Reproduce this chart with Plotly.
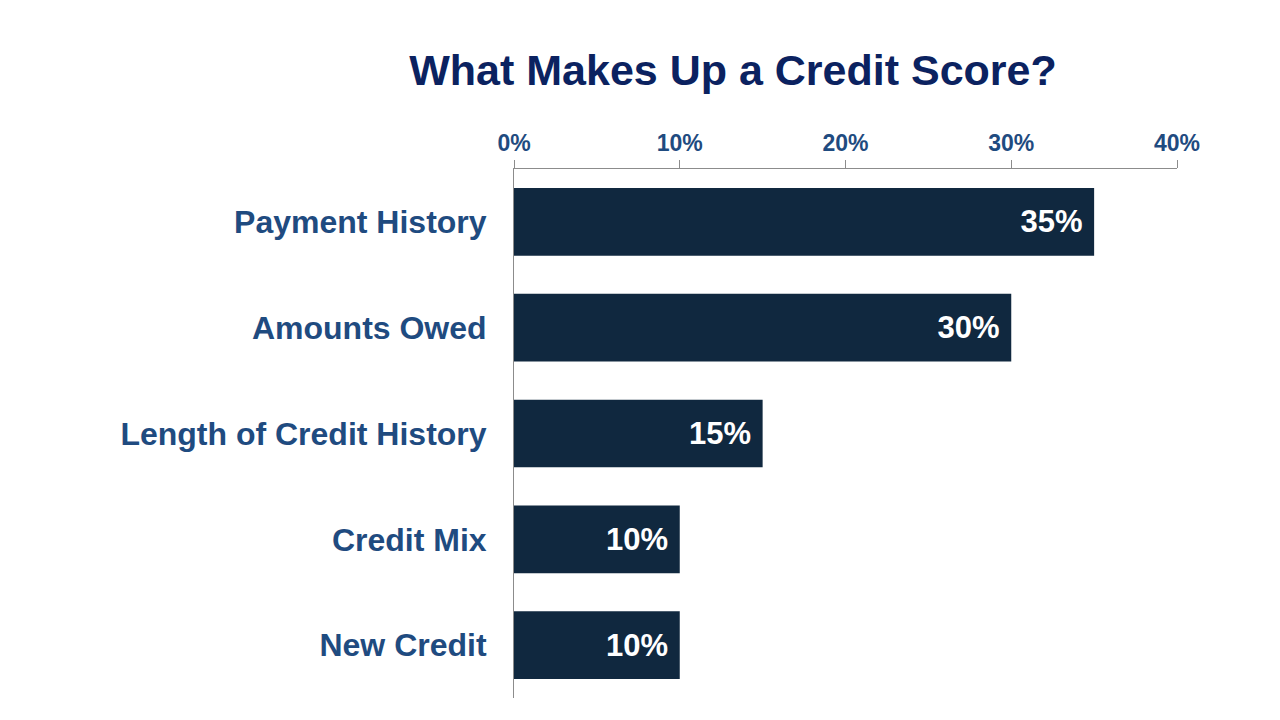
import plotly.graph_objects as go

categories = ["Payment History", "Amounts Owed", "Length of Credit History", "Credit Mix", "New Credit"]
shares = [35, 30, 15, 10, 10]
tick_vals = [0, 10, 20, 30, 40]
tick_text = ["0%", "10%", "20%", "30%", "40%"]

FONT = "Liberation Sans, Arial, sans-serif"
label_blue = "#1f4b80"

# page body adds an 8px offset, so margins are set against that
fig = go.Figure()
fig.add_trace(go.Bar(
    y=categories,
    x=shares,
    orientation="h",
    marker=dict(color="#10283f", line=dict(width=0)),
    text=[str(v) + "%\u00a0" for v in shares],
    textposition="inside",
    insidetextanchor="end",
    textfont=dict(family=FONT, size=31, color="white", weight="bold"),
    hoverinfo="x+y",
))

fig.update_layout(
    width=1280, height=720,
    paper_bgcolor="white", plot_bgcolor="white",
    margin=dict(l=506, r=111, t=161, b=30),
    bargap=0.36,
    showlegend=False,
    title=dict(text="<b>What Makes Up a Credit Score?</b>", x=725 / 1280, xanchor="center",
               xref="container", y=1 - 62 / 720, yanchor="middle", yref="container",
               font=dict(family=FONT, size=43, color="#0b2260")),
    xaxis=dict(side="top", range=[0, 40], tickvals=tick_vals, ticktext=tick_text,
               showgrid=False, zeroline=False, showline=True, linecolor="#8c8c8c", linewidth=1,
               ticks="outside", ticklen=8, tickcolor="#8c8c8c",
               tickfont=dict(family=FONT, size=23, color=label_blue, weight="bold")),
    yaxis=dict(autorange="reversed", showgrid=False, zeroline=False, showline=True,
               linecolor="#8c8c8c", linewidth=1, ticks="", ticklabelstandoff=20,
               tickfont=dict(family=FONT, size=32, color=label_blue, weight="bold")),
)

fig.write_html("out.html")
